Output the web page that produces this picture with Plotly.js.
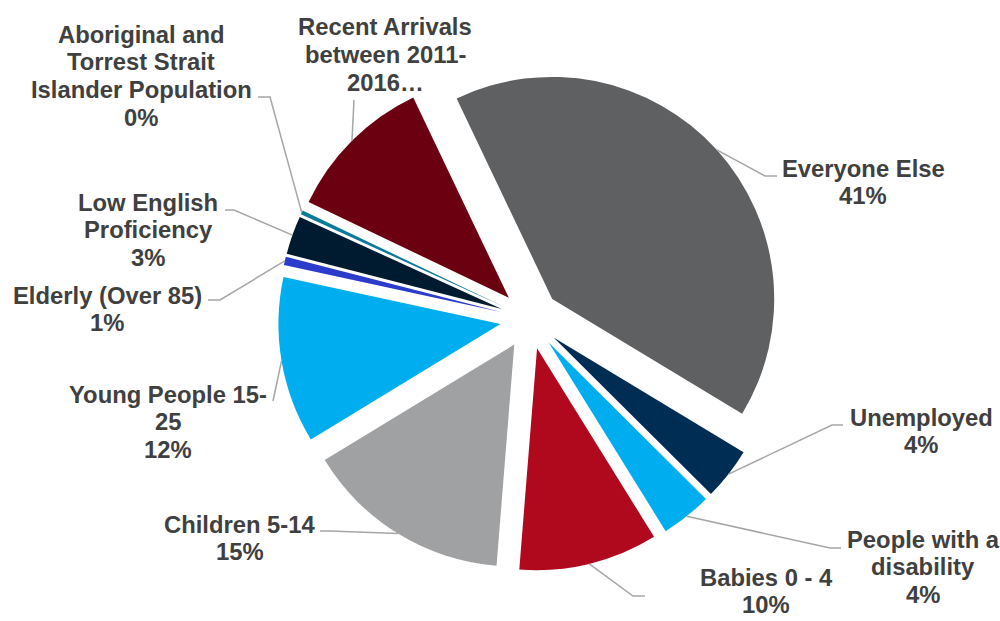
<!DOCTYPE html>
<html><head><meta charset="utf-8">
<script src="https://cdn.plot.ly/plotly-3.0.1.min.js"></script>
<style>html,body{margin:0;padding:0;background:#fff;}#chart{width:1000px;height:621px;}</style>
</head><body><div id="chart"></div>
<script>
// ---- data ----
const categories = ["Everyone Else","Unemployed","People with a disability","Babies 0 - 4","Children 5-14","Young People 15-25","Elderly (Over 85)","Low English Proficiency","Aboriginal and Torrest Strait Islander Population","Recent Arrivals between 2011-2016"];
const shares = [40.7, 3.8, 3.7, 10.1, 15.0, 12.1, 0.6, 2.8, 0.3, 10.8];
const labelLines = [["Everyone Else"],["Unemployed"],["People with a","disability"],["Babies 0 - 4"],["Children 5-14"],["Young People 15-","25"],["Elderly (Over 85)"],["Low English","Proficiency"],["Aboriginal and","Torrest Strait","Islander Population"],["Recent Arrivals","between 2011-","2016…"]];
const showPercent = [true,true,true,true,true,true,true,true,true,false];
const colors = ["#5f6062","#002d54","#00aeef","#b0091e","#a0a1a3","#00aeef","#2b3bcc","#001a30","#0b7a9a","#6b0011"];

// ---- layout (pixels) ----
const W = 1000, H = 621;
const CX = 530, CY = 319, RAD = 222, PULL = 0.135, ROT = -25.5;
const labelPos = [[863,168],[921,417],[923,539],[766,577],[240,524],[168,394],[107,295],[148,202],[141,34],[385,27]];
const leaderPts = [[[765,176],[777,176]],[[832,425],[843,425]],[[830,548],[841,548]],[[633,596],[645,596]],[[330,531],[320,531]],[[273,401],[273,401]],[[220,300],[208,300]],[[234,210],[225,210]],[[270,97],[258,97]],[[354,100],[354,100]]];
const LINE = 27.7, FONT = 23.8;

const px = x => x / W, py = y => 1 - y / H;
const outerR = RAD * (1 + PULL);
const total = shares.reduce((a,b)=>a+b,0);

const annotations = [], shapes = [];
let cum = 0;
shares.forEach((v, i) => {
  const mid = (ROT + 360 * (cum + v/2) / total) * Math.PI / 180;
  cum += v;
  const ax = CX + outerR * Math.sin(mid), ay = CY - outerR * Math.cos(mid);
  const [e1, e2] = leaderPts[i];
  shapes.push({type:'path', xref:'paper', yref:'paper',
    path:`M ${px(ax)} ${py(ay)} L ${px(e1[0])} ${py(e1[1])} L ${px(e2[0])} ${py(e2[1])}`,
    line:{color:'#a6a6a6', width:1.5}});
  const lines = labelLines[i].slice();
  if (showPercent[i]) lines.push(Math.round(v / total * 100) + '%');
  lines.forEach((t, k) => {
    annotations.push({x: px(labelPos[i][0]), y: py(labelPos[i][1] + k*LINE), xref:'paper', yref:'paper',
      xanchor:'center', yanchor:'middle', showarrow:false, text:'<b>'+t+'</b>',
      font:{family:'Liberation Sans, Arial, sans-serif', size:FONT, color:'#404040'}});
  });
});

const trace = {
  type:'pie', values: shares, labels: categories, sort:false, direction:'clockwise',
  rotation: ROT, pull: PULL, textinfo:'none', hoverinfo:'label+percent',
  marker:{colors: colors, line:{width:0}},
  domain:{x:[px(CX-outerR), px(CX+outerR)], y:[py(CY+outerR), py(CY-outerR)]},
  showlegend:false
};
Plotly.newPlot('chart', [trace], {
  width:W, height:H, margin:{l:0,r:0,t:0,b:0}, paper_bgcolor:'#fff', plot_bgcolor:'#fff',
  showlegend:false, annotations, shapes
}, {displayModeBar:false, staticPlot:true});
</script></body></html>
